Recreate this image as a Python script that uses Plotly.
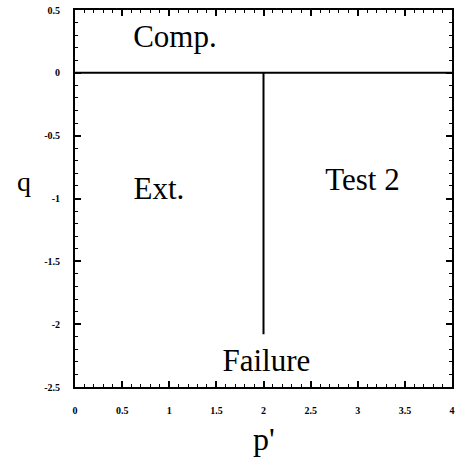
import plotly.graph_objects as go

# Stress-path regions in p'-q space
x_ticks = [0, 0.5, 1, 1.5, 2, 2.5, 3, 3.5, 4]
x_tick_text = ["0", "0.5", "1", "1.5", "2", "2.5", "3", "3.5", "4"]
y_ticks = [0.5, 0, -0.5, -1, -1.5, -2, -2.5]
y_tick_text = ["0.5", "0", "-0.5", "-1", "-1.5", "-2", "-2.5"]

# Horizontal boundary (q = 0) and the vertical test-2 path
zero_line_p = [0, 4]
zero_line_q = [0, 0]
test_path_p = [2, 2]
test_path_q = [0, -2.08]

# Region labels
label_text = ["Comp.", "Ext.", "Test 2", "Failure"]
label_p = [1.06, 0.89, 3.05, 2.03]
label_q = [0.27, -0.94, -0.87, -2.31]

serif = "Liberation Serif"

fig = go.Figure()
fig.add_trace(go.Scatter(x=zero_line_p, y=zero_line_q, mode="lines",
                         line=dict(color="black", width=2), hoverinfo="skip"))
fig.add_trace(go.Scatter(x=test_path_p, y=test_path_q, mode="lines",
                         line=dict(color="black", width=2), hoverinfo="skip"))
fig.add_trace(go.Scatter(x=label_p, y=label_q, mode="text", text=label_text,
                         textfont=dict(family=serif, size=31, color="black"),
                         hoverinfo="skip"))

axis_common = dict(
    showgrid=False, zeroline=False, showline=True, linecolor="black", linewidth=2,
    mirror="ticks", ticks="inside", ticklen=6, tickwidth=1.5, tickcolor="black",
    tickfont=dict(family=serif, size=10, color="black", weight="bold"),
)

fig.update_xaxes(range=[0, 4], tickvals=x_ticks, ticktext=x_tick_text,
                 ticklabelstandoff=13,
                 minor=dict(dtick=0.1, ticks="inside", ticklen=3, tickcolor="black", tickwidth=1),
                 **axis_common)
fig.update_yaxes(range=[-2.5, 0.5], tickvals=y_ticks, ticktext=y_tick_text,
                 ticklabelstandoff=11,
                 minor=dict(dtick=0.1, ticks="inside", ticklen=3, tickcolor="black", tickwidth=1),
                 **axis_common)

fig.add_annotation(text="q", xref="paper", yref="paper", x=-0.16, y=0.545,
                   xanchor="left", yanchor="middle",
                   showarrow=False, font=dict(family=serif, size=28, color="black"))
fig.add_annotation(text="p'", xref="paper", yref="paper", x=0.5, y=-0.138,
                   xanchor="center", yanchor="middle",
                   showarrow=False, font=dict(family=serif, size=32, color="black"))

fig.update_layout(
    width=458, height=459,
    margin=dict(l=75, r=3, t=10, b=72),
    paper_bgcolor="white", plot_bgcolor="white",
    showlegend=False,
)

fig.write_html("out.html")
